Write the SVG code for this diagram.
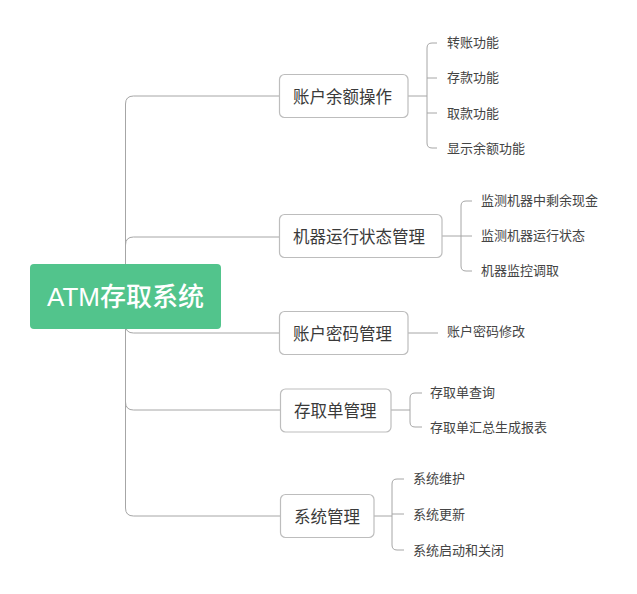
<svg xmlns="http://www.w3.org/2000/svg" width="637" height="594" viewBox="0 0 637 594">
<style>
.ln{fill:none;stroke:#a6a6a6;stroke-width:1}
.bx{fill:#fff;stroke:#bdbdbd;stroke-width:1.2}
.bt{font-family:"Noto Sans CJK SC","Liberation Sans",sans-serif;font-size:16.5px;fill:#3a3a3a;dominant-baseline:central}
.lf{font-family:"Noto Sans CJK SC","Liberation Sans",sans-serif;font-size:13px;fill:#444;dominant-baseline:central}
.rt{font-family:"Liberation Sans","Noto Sans CJK SC",sans-serif;font-size:26px;font-weight:500;fill:#fff;text-anchor:middle;dominant-baseline:central}
</style>
<rect width="637" height="594" fill="#fff"/>
<g id="connectors">
<path class="ln" d="M125.5,297 V104 Q125.5,96 133.5,96 H279"/>
<path class="ln" d="M125.5,297 V245 Q125.5,237 133.5,237 H279"/>
<path class="ln" d="M125.5,297 V325 Q125.5,333 133.5,333 H279"/>
<path class="ln" d="M125.5,297 V402 Q125.5,410 133.5,410 H280"/>
<path class="ln" d="M125.5,297 V508 Q125.5,516 133.5,516 H280"/>
<path class="ln" d="M408,96 H427"/>
<path class="ln" d="M437,43 H432 Q427,43 427,48 V143 Q427,148 432,148 H437"/>
<path class="ln" d="M427,78 H437 M427,113 H437"/>
<path class="ln" d="M442,236 H461"/>
<path class="ln" d="M472,201 H466 Q461,201 461,206 V266 Q461,271 466,271 H472"/>
<path class="ln" d="M461,236 H472"/>
<path class="ln" d="M408,333 H438"/>
<path class="ln" d="M391,410 H410"/>
<path class="ln" d="M422,393 H415 Q410,393 410,398 V422 Q410,427 415,427 H422"/>
<path class="ln" d="M374,516 H392"/>
<path class="ln" d="M404,479 H397 Q392,479 392,484 V545 Q392,550 397,550 H404"/>
<path class="ln" d="M392,514 H404"/>
</g>
<g id="root">
<rect x="30" y="264" width="191" height="65" rx="4" fill="#52c48c"/>
<text class="rt" x="125.5" y="297">ATM存取系统</text>
</g>
<g id="n1">
<rect class="bx" x="279.5" y="74.5" width="128.5" height="43" rx="5"/>
<text class="bt" x="293" y="96">账户余额操作</text>
</g>
<g id="n2">
<rect class="bx" x="279.5" y="214.5" width="162.5" height="43" rx="5"/>
<text class="bt" x="293" y="236">机器运行状态管理</text>
</g>
<g id="n3">
<rect class="bx" x="279.5" y="311.5" width="128.5" height="43" rx="5"/>
<text class="bt" x="293" y="333">账户密码管理</text>
</g>
<g id="n4">
<rect class="bx" x="280.5" y="389" width="110.5" height="43" rx="5"/>
<text class="bt" x="294" y="410">存取单管理</text>
</g>
<g id="n5">
<rect class="bx" x="280.5" y="494.5" width="93.5" height="43" rx="5"/>
<text class="bt" x="294" y="516">系统管理</text>
</g>
<g id="leaves">
<text class="lf" x="447" y="41">转账功能</text>
<text class="lf" x="447" y="76">存款功能</text>
<text class="lf" x="447" y="112">取款功能</text>
<text class="lf" x="447" y="147">显示余额功能</text>
<text class="lf" x="481" y="199">监测机器中剩余现金</text>
<text class="lf" x="481" y="234">监测机器运行状态</text>
<text class="lf" x="481" y="269">机器监控调取</text>
<text class="lf" x="447" y="330">账户密码修改</text>
<text class="lf" x="430" y="391">存取单查询</text>
<text class="lf" x="430" y="426">存取单汇总生成报表</text>
<text class="lf" x="413" y="477">系统维护</text>
<text class="lf" x="413" y="513">系统更新</text>
<text class="lf" x="413" y="549">系统启动和关闭</text>
</g>
</svg>
